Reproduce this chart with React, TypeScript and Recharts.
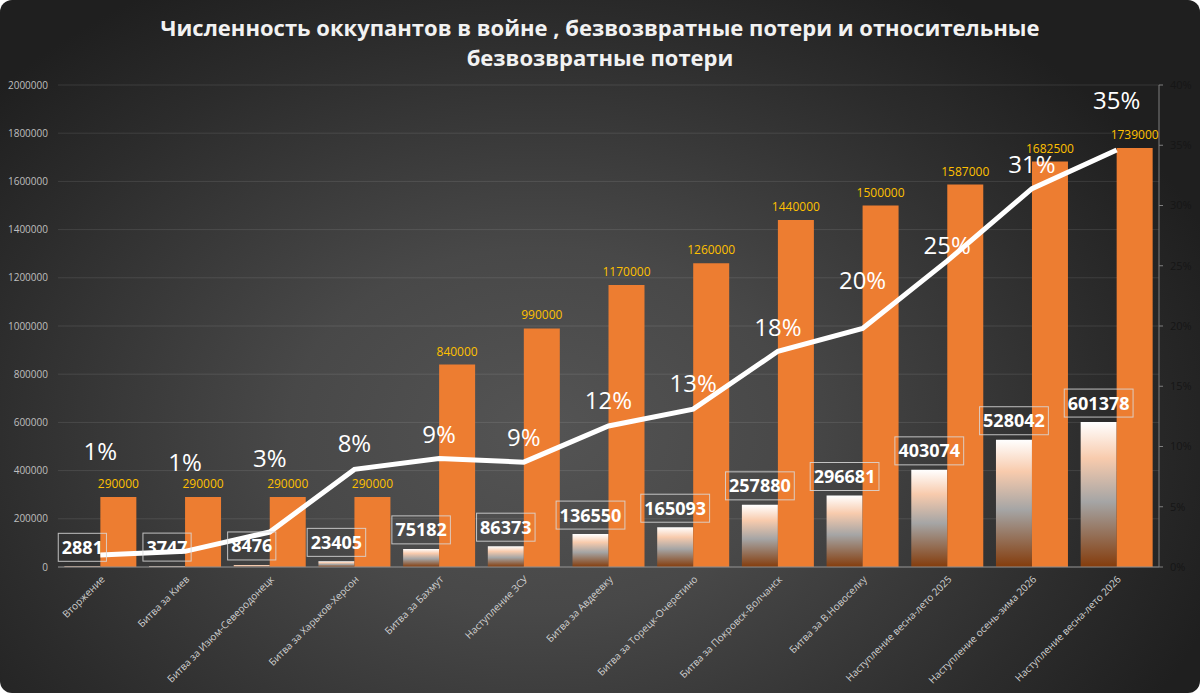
import React from "react";
import {
  ComposedChart, Bar, Line, XAxis, YAxis, CartesianGrid,
} from "recharts";

const categories = [
  "Вторжение",
  "Битва за Киев",
  "Битва за Изюм-Северодонецк",
  "Битва за Харьков-Херсон",
  "Битва за Бахмут",
  "Наступление ЗСУ",
  "Битва за Авдеевку",
  "Битва за Торецк-Очеретино",
  "Битва за Покровск-Волчанск",
  "Битва за В.Новоселку",
  "Наступление весна-лето 2025",
  "Наступление осень-зима 2026",
  "Наступление весна-лето 2026",
];

// численность группировки
const troops = [290000, 290000, 290000, 290000, 840000, 990000, 1170000, 1260000, 1440000, 1500000, 1587000, 1682500, 1739000];
// безвозвратные потери
const losses = [2881, 3747, 8476, 23405, 75182, 86373, 136550, 165093, 257880, 296681, 403074, 528042, 601378];
// относительные потери, %
const lossPct = [1.0, 1.3, 2.9, 8.1, 9.0, 8.7, 11.7, 13.1, 17.9, 19.8, 25.4, 31.4, 34.6];
const pctLabels = ["1%", "1%", "3%", "8%", "9%", "9%", "12%", "13%", "18%", "20%", "25%", "31%", "35%"];

const leftTicks = [0, 200000, 400000, 600000, 800000, 1000000, 1200000, 1400000, 1600000, 1800000, 2000000];
const rightTicks = [0, 5, 10, 15, 20, 25, 30, 35, 40];

// how far each % label sits above its point (px)
const pctLift = [103, 89, 74, 26, 24, 25, 26, 26, 24, 48, 15, 24, 50];

const data = categories.map((name, i) => ({
  name,
  troops: troops[i],
  losses: losses[i],
  pct: lossPct[i],
}));

const FONT = "'Open Sans', sans-serif";

const LossLabel = (props: any) => {
  const { x, y, width, value } = props;
  const text = String(value);
  const w = text.length * 10.3 + 7;
  const h = 28;
  const cx = x + width / 2;
  const top = y - 5 - h;
  return (
    <g>
      <rect x={cx - w / 2} y={top} width={w} height={h} fill="none" stroke="#d9d9d9" strokeOpacity={0.85} strokeWidth={1} />
      <text x={cx} y={top + h / 2 + 6.5} textAnchor="middle" fill="#ffffff" fontFamily={FONT} fontWeight={700} fontSize={18}>
        {text}
      </text>
    </g>
  );
};

const PctLabel = (props: any) => {
  const { x, y, index } = props;
  return (
    <text x={x} y={y - pctLift[index] + 8.5} textAnchor="middle" fill="#ffffff" fontFamily={FONT} fontSize={24}>
      {pctLabels[index]}
    </text>
  );
};

export default function App() {
  return (
    <div style={{ position: "absolute", left: 0, top: 0, width: 1200, height: 693 }}>
      <div
        style={{
          position: "absolute", left: 0, top: 0, width: 1200, height: 693, borderRadius: 12,
          background: "radial-gradient(ellipse 60% 75% at 45% 62%, #545454 0%, #484848 35%, #2c2c2c 78%, #1f1f1f 100%)",
        }}
      />
      <div
        style={{
          position: "absolute", left: 0, top: 12, width: 1200, textAlign: "center", color: "#f2f2f2",
          fontFamily: FONT, fontWeight: 700, fontSize: 22, lineHeight: "30px",
        }}
      >
        Численность оккупантов в войне , безвозвратные потери и относительные
        <br />
        безвозвратные потери
      </div>
      <div style={{ position: "absolute", left: 0, top: 0 }}>
        <ComposedChart
          width={1200}
          height={693}
          data={data}
          margin={{ top: 85, right: 0, bottom: 0, left: 0 }}
          barCategoryGap="7.5%"
          barGap={0}
        >
          <defs>
            <linearGradient id="lossGrad" x1="0" y1="0" x2="0" y2="1">
              <stop offset="0%" stopColor="#ffffff" />
              <stop offset="25%" stopColor="#f8cbad" />
              <stop offset="55%" stopColor="#a5a5a5" />
              <stop offset="100%" stopColor="#843c0c" />
            </linearGradient>
          </defs>
          <CartesianGrid yAxisId="left" vertical={false} stroke="#ffffff" strokeOpacity={0.1} />
          <XAxis
            dataKey="name"
            height={126}
            interval={0}
            tickLine={false}
            axisLine={{ stroke: "#8c8c8c" }}
            tick={{ fill: "#d0d0d0", fontSize: 10, fontFamily: FONT, angle: -45, textAnchor: "end" }}
          />
          <YAxis
            yAxisId="left"
            width={58}
            domain={[0, 2000000]}
            ticks={leftTicks}
            axisLine={false}
            tickLine={false}
            tickMargin={4}
            tick={{ fill: "#bfbfbf", fontSize: 10, fontFamily: FONT }}
          />
          <YAxis
            yAxisId="right"
            orientation="right"
            width={41}
            domain={[0, 40]}
            ticks={rightTicks}
            tickFormatter={(v) => `${v}%`}
            axisLine={{ stroke: "#7f7f7f" }}
            tickLine={{ stroke: "#7f7f7f" }}
            tickSize={4}
            tickMargin={7}
            tick={{ fill: "#161616", fontSize: 11, fontFamily: FONT }}
          />
          <Bar yAxisId="left" dataKey="losses" fill="url(#lossGrad)" isAnimationActive={false} label={LossLabel} />
          <Bar
            yAxisId="left"
            dataKey="troops"
            fill="#ed7d31"
            isAnimationActive={false}
            label={{ position: "top", offset: 9, fill: "#ffc000", fontSize: 12, fontFamily: FONT }}
          />
          <Line
            yAxisId="right"
            dataKey="pct"
            type="linear"
            stroke="#ffffff"
            strokeWidth={5}
            dot={false}
            isAnimationActive={false}
            label={PctLabel}
          />
        </ComposedChart>
      </div>
    </div>
  );
}
